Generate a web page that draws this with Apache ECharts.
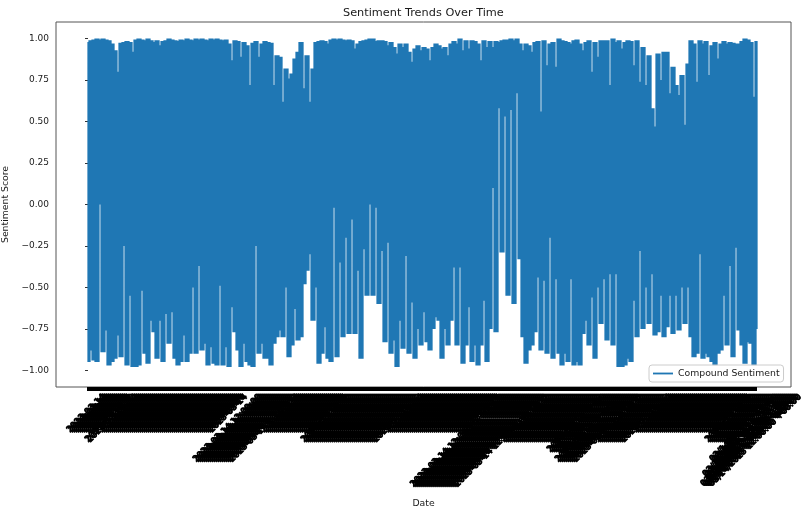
<!DOCTYPE html>
<html>
<head>
<meta charset="utf-8">
<style>html,body{margin:0;padding:0;background:#fff}#c{width:806px;height:515px}</style>
<script src="https://cdn.jsdelivr.net/npm/echarts@6/dist/echarts.min.js"></script>
</head>
<body>
<div id="c"></div>
<script>
const upperValues = [
0.98,0.99,0.995,1,0.995,1,0.995,0.99,0.97,0.93,0.80,0.975,0.98,0.985,0.98,0.92,0.995,1,0.995,0.99,
1,0.99,0.98,0.99,0.96,0.985,0.99,1,0.995,0.99,0.985,0.995,0.99,1,0.995,0.99,1,0.995,1,0.995,
0.99,1,0.995,1,0.995,0.99,0.995,0.97,0.87,0.99,0.985,0.89,0.98,0.96,0.72,0.975,0.985,0.89,0.97,0.985,
0.98,0.975,0.72,0.90,0.89,0.62,0.82,0.76,0.79,0.88,0.92,0.98,0.70,0.90,
0.62,0.82,0.98,0.985,0.99,0.985,0.97,0.995,1,0.995,1,0.995,0.99,0.995,0.99,0.94,0.97,0.985,0.99,0.995,
1,1,0.985,0.99,0.99,0.985,0.96,0.98,0.95,0.91,0.97,0.95,0.97,0.92,0.86,0.94,0.96,0.93,0.95,0.94,
0.87,0.95,0.97,0.96,0.94,0.95,0.90,0.97,0.985,0.97,1,0.93,0.99,0.94,0.99,0.985,0.97,0.87,0.99,0.95,
0.985,0.95,0.985,0.98,0.99,0.995,0.995,1,0.99,1,0.97,0.93,0.97,0.96,0.92,
0.98,0.985,0.56,0.99,0.84,0.97,0.98,0.83,1,0.99,0.985,0.98,0.97,0.99,0.995,0.97,0.93,0.98,0.99,0.80,
0.98,0.89,0.99,0.99,0.99,0.72,1,0.98,0.99,0.94,0.98,0.99,0.985,0.84,0.99,0.74,0.95,0.72,0.90,0.58,
0.47,0.91,0.75,0.92,0.92,0.67,0.83,0.72,0.66,0.78,0.48,0.85,0.99,0.97,0.74,0.99,0.97,0.985,0.78,0.96,
0.98,0.88,0.97,0.985,0.97,0.98,0.975,0.97,0.97,0.985,1,0.995,0.98,0.65,0.985
];
const lowerValues = [
-0.95,-0.88,-0.94,-0.95,0.0,-0.89,-0.76,-0.97,-0.95,-0.93,-0.79,-0.92,-0.25,-0.97,-0.55,-0.98,-0.98,-0.97,-0.52,-0.90,
-0.96,-0.70,-0.77,-0.93,-0.70,-0.95,-0.66,-0.84,-0.65,-0.93,-0.97,-0.95,-0.79,-0.95,-0.90,-0.50,-0.90,-0.37,-0.88,-0.84,
-0.97,-0.86,-0.96,-0.97,-0.49,-0.97,-0.86,-0.98,-0.62,-0.77,-0.88,-0.98,-0.84,-0.95,-0.97,-0.98,-0.25,-0.90,-0.84,-0.93,
-0.93,-0.97,-0.84,-0.80,-0.76,-0.80,-0.50,-0.92,-0.85,-0.63,-0.82,-0.80,-0.48,-0.40,
-0.30,-0.70,-0.50,-0.96,-0.90,-0.74,-0.93,-0.95,-0.02,-0.92,-0.35,-0.80,-0.20,-0.78,-0.09,-0.78,-0.40,-0.93,-0.27,-0.55,
0.0,-0.55,-0.02,-0.60,-0.28,-0.83,-0.23,-0.90,-0.82,-0.98,-0.70,-0.87,-0.31,-0.90,-0.59,-0.93,-0.75,-0.85,-0.65,-0.83,
-0.88,-0.75,-0.68,-0.70,-0.93,-0.75,-0.85,-0.70,-0.38,-0.85,-0.38,-0.96,-0.85,-0.62,-0.95,-0.85,-0.97,-0.85,-0.58,-0.95,
-0.75,0.10,-0.77,0.58,-0.29,0.53,-0.55,0.57,-0.60,0.67,-0.33,-0.80,-0.96,-0.88,-0.85,
-0.77,-0.44,-0.88,-0.46,-0.90,-0.20,-0.93,-0.45,-0.90,-0.97,-0.90,-0.95,-0.45,-0.97,-0.95,-0.97,-0.78,-0.70,-0.85,-0.56,
-0.93,-0.50,-0.72,-0.45,-0.82,-0.42,-0.85,-0.42,-0.98,-0.98,-0.97,-0.93,-0.95,-0.58,-0.80,-0.28,-0.75,-0.50,-0.72,-0.42,
-0.79,-0.77,-0.55,-0.80,-0.74,-0.55,-0.78,-0.55,-0.76,-0.50,-0.72,-0.50,-0.80,-0.92,-0.90,-0.30,-0.93,-0.90,-0.92,-0.95,
-0.97,-0.90,-0.88,-0.55,-0.85,-0.37,-0.92,-0.26,-0.76,-0.85,-0.96,-0.83,-0.84,-0.97,-0.75
];
const yTicks = [-1,-0.75,-0.5,-0.25,0,0.25,0.5,0.75,1];
const S = '2023-03-14', M = '2023-03-14 12', L1 = '2023-03-14 12:00', L2 = '2023-03-14 12:00:00',
      XL = '2023-03-14 12:00:00 +00:00', T1 = '03/14/2023 12:00:00', T2 = '03/14/2023 12:00:00 +00', T3 = '03/14/2023 12:00:00 +00:00';
const labelRuns = [[8,''],[14,S],[2,M],[56,S],[6,''],[19,L2],[25,S],[37,M],[40,S],[23,XL],[28,M],[9,L1],[10,L2],[14,M],[41,S],[12,M],[4,T1],[4,T2],[5,T3]];
const dateLabels = labelRuns.flatMap(([n, t]) => Array(n).fill(t));
const lastTickIndex = 334;
const font = 'DejaVu Sans';
const columns = [];
const n = upperValues.length;
upperValues.forEach((u, i) => {
  const l = lowerValues[i];
  const up = (j) => (j < 0 || j >= n) ? u : Math.max(u, upperValues[j]);
  const lo = (j) => (j < 0 || j >= n) ? l : Math.min(l, lowerValues[j]);
  if (i > 0) columns.push([i - 1 / 3, up(i - 1), lo(i - 1)]);
  columns.push([i, u, l]);
  if (i < n - 1) columns.push([i + 1 / 3, up(i + 1), lo(i + 1)]);
});
const line = [];
columns.forEach((c) => { line.push([c[0], c[1]], [c[0], c[2]], [c[0], null]); });
const chart = echarts.init(document.getElementById('c'), null, {renderer: 'canvas'});
chart.setOption({
  animation: false,
  backgroundColor: '#fff',
  title: {text: 'Sentiment Trends Over Time', left: 338, top: 3,
    textStyle: {fontFamily: font, fontSize: 11.3, fontWeight: 'normal', color: '#1a1a1a'}},
  legend: {show: true, left: 649, top: 365, orient: 'horizontal', padding: [4, 4, 4, 4],
    backgroundColor: 'rgba(255,255,255,0.8)', borderColor: '#ccc', borderWidth: 1, borderRadius: 3,
    itemWidth: 20, itemHeight: 8, itemGap: 0, icon: 'path://M0 0 H22 V2 H0 Z',
    textStyle: {fontFamily: font, fontSize: 9.3, color: '#1a1a1a'},
    data: ['Compound Sentiment']},
  grid: [
    {left: 56, width: 735, top: 22, height: 365, show: true, outerBoundsMode: 'none', borderColor: '#555', borderWidth: 1, backgroundColor: 'transparent', containLabel: false},
    {left: 88, width: 712, top: 22, height: 365, show: false, outerBoundsMode: 'none'}
  ],
  xAxis: [
    {type: 'value', gridIndex: 0, min: -10.67, max: 234.33, splitLine: {show: false}, axisLine: {show: false},
      axisTick: {show: false}, axisLabel: {show: false},
      name: 'Date', nameLocation: 'middle', nameGap: 112,
      nameTextStyle: {fontFamily: font, fontSize: 9.3, color: '#1a1a1a'}},
    {type: 'category', gridIndex: 1, boundaryGap: false, data: dateLabels,
      axisLine: {show: false, onZero: false},
      axisTick: {show: true, length: 4, interval: (i) => i <= lastTickIndex, lineStyle: {color: '#000', width: 2}},
      axisLabel: {show: true, interval: 0, rotate: 45, margin: 8.5, hideOverlap: false, showMinLabel: true, showMaxLabel: true,
        fontFamily: font, fontSize: 8.7, color: '#000', textBorderColor: '#000', textBorderWidth: 1},
      splitLine: {show: false}}
  ],
  yAxis: [
    {type: 'value', gridIndex: 0, min: -1.1, max: 1.1, splitLine: {show: false},
      axisLine: {show: false},
      axisTick: {show: true, length: 3, customValues: yTicks, lineStyle: {color: '#333', width: 1}},
      axisLabel: {show: true, margin: 7, customValues: yTicks, fontFamily: font, fontSize: 9, color: '#1a1a1a',
        formatter: (v) => (v < 0 ? '\u2212' : '') + Math.abs(v).toFixed(2)},
      name: 'Sentiment Score', nameLocation: 'middle', nameGap: 39, nameRotate: 90,
      nameTextStyle: {fontFamily: font, fontSize: 9.3, color: '#1a1a1a'}},
    {type: 'value', gridIndex: 1, min: -1.1, max: 1.1, show: false}
  ],
  series: [{
    name: 'Compound Sentiment', type: 'line', xAxisIndex: 0, yAxisIndex: 0, data: line,
    showSymbol: false, symbol: 'none', connectNulls: false,
    lineStyle: {color: '#1f77b4', width: 1.25, join: 'bevel', cap: 'butt'},
    itemStyle: {color: '#1f77b4'}
  }]
});
</script>
</body>
</html>
